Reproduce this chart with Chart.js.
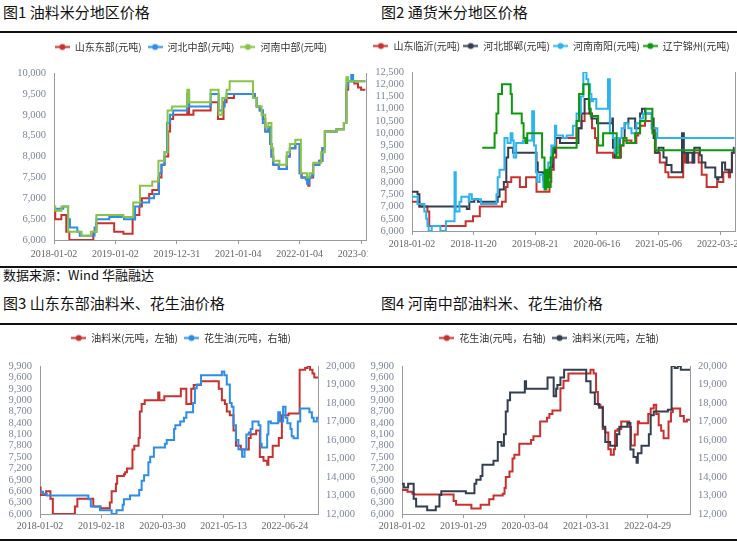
<!DOCTYPE html>
<html>
<head>
<meta charset="utf-8">
<script src="https://cdn.jsdelivr.net/npm/chart.js@4"></script>
<style>
  body { margin: 0; width: 737px; height: 542px; overflow: hidden; position: relative; background: #fff;
         font-family: "Noto Sans CJK SC", sans-serif; }
  .title { position: absolute; font-size: 15px; line-height: 20px; color: #111; white-space: nowrap; }
  .rule { position: absolute; left: 0; width: 737px; height: 2px; background: #111; }
  .src { position: absolute; left: 3px; top: 266px; font-size: 13px; line-height: 18px; color: #111; }
  .box { position: absolute; overflow: hidden; }
  .box canvas { position: absolute; left: 0; top: 0; }
</style>
</head>
<body>
<div class="title" style="left:3px;top:2px">图1 油料米分地区价格</div>
<div class="title" style="left:381px;top:2px">图2 通货米分地区价格</div>
<div class="rule" style="top:31px"></div>
<div class="rule" style="top:266px"></div>
<div class="src">数据来源：Wind 华融融达</div>
<div class="title" style="left:3px;top:293px">图3 山东东部油料米、花生油价格</div>
<div class="title" style="left:381px;top:293px">图4 河南中部油料米、花生油价格</div>
<div class="rule" style="top:323px"></div>
<div class="rule" style="top:539px"></div>

<div class="box" style="left:0;top:33px;width:368px;height:231px"><canvas id="c1" width="400" height="231"></canvas></div>
<div class="box" style="left:368px;top:33px;width:369px;height:231px"><canvas id="c2" width="400" height="231"></canvas></div>
<div class="box" style="left:0;top:325px;width:368px;height:214px"><canvas id="c3" width="368" height="214"></canvas></div>
<div class="box" style="left:368px;top:325px;width:369px;height:214px"><canvas id="c4" width="369" height="214"></canvas></div>

<script>
// 横轴刻度标签（每个刻度间隔 = 10 个序号单位）
const ticks1 = ["2018-01-02", "2019-01-02", "2019-12-31", "2021-01-04", "2022-01-04", "2023-01-03"]
const ticks2 = ["2018-01-02", "2018-11-20", "2019-08-21", "2020-06-16", "2021-05-06", "2022-03-24"]
const ticks3 = ["2018-01-02", "2019-02-18", "2020-03-30", "2021-05-13", "2022-06-24"]
const ticks4 = ["2018-01-02", "2019-01-29", "2020-03-04", "2021-03-31", "2022-04-29"]

// 图1 油料米 [序号, 元/吨]
const sdEast1 = [[0,6700],[0.2,6500],[1.2,6600],[2.0,6200],[2.5,6000],[6.4,6200],[6.9,6400],[9.8,6200],[11.3,6150],
  [12.8,6500],[13.2,6600],[13.9,6800],[14.3,7000],[15.5,7100],[16.0,7200],[17.0,7500],[17.5,7800],[18.0,8000],
  [18.6,8600],[18.9,8900],[19.4,9000],[21.7,9300],[22.0,9000],[22.7,9100],[25.5,9300],[26.7,8900],[27.6,9300],
  [28.1,9400],[29.3,9500],[32.7,9400],[33.0,9200],[33.5,9100],[34.0,8900],[34.4,8600],[34.9,8700],[35.2,8300],
  [35.4,8000],[35.7,7800],[36.6,7700],[37.9,8000],[38.4,8200],[39.3,8300],[40.0,7600],[40.3,7500],[41.4,7300],
  [41.6,7500],[42.2,7800],[43.2,7900],[43.7,8200],[44.1,8600],[46.0,8650],[47.2,8800],[47.6,9600],[47.9,9800],
  [48.9,9750],[49.5,9650],[50.0,9600],[50.7,9600]]
const hbCentral1 = [[0,6750],[1.5,6800],[2.3,6500],[2.6,6300],[3.8,6200],[4.2,6100],[6.6,6300],[6.9,6500],[9.0,6550],
  [11.4,6500],[13.2,6800],[14.0,6900],[15.5,7000],[16.3,7100],[17.1,7600],[17.5,7800],[18.0,8100],[18.4,8800],
  [18.9,9000],[19.4,9100],[21.7,9500],[22.0,9200],[25.5,9500],[26.8,9100],[27.4,9200],[27.8,9400],[28.1,9500],
  [32.7,9400],[33.0,9200],[33.5,9100],[34.0,8800],[34.4,8600],[34.9,8700],[35.2,8300],[35.4,8000],[35.7,7800],
  [36.6,7700],[37.9,8000],[38.4,8200],[39.3,8300],[40.0,7600],[40.3,7500],[41.0,7450],[41.2,7350],[41.5,7500],
  [42.0,7550],[42.2,7800],[43.2,7900],[43.7,8200],[44.1,8600],[46.0,8650],[47.2,8800],[47.6,9700],[47.9,9800],
  [48.4,9950],[48.7,9800],[50.7,9800]]
const hnCentral1 = [[0,6800],[0.2,6700],[1.2,6800],[2.3,6200],[4.5,6100],[6.0,6200],[6.9,6600],[11.3,6550],[12.9,6900],
  [14.0,7300],[16.0,7400],[17.0,7900],[18.0,8100],[18.5,9100],[19.2,9200],[21.7,9600],[22.0,9300],[25.5,9600],
  [26.8,9000],[27.4,9400],[28.1,9600],[28.6,9800],[32.4,9400],[33.0,9200],[33.8,9000],[34.4,8700],[34.9,8800],
  [35.4,8200],[35.7,7900],[36.7,7800],[37.9,8100],[38.4,8300],[39.3,8400],[40.2,7600],[41.2,7500],[41.6,7600],
  [42.2,7850],[43.5,8100],[44.1,8600],[46.0,8650],[47.2,8800],[47.6,9900],[47.9,9800],[50.7,9800]]

// 图2 通货米
const sdLinyi2 = [[0,7200],[1.2,7000],[2.5,6800],[2.8,6200],[8.7,6400],[9.9,6600],[11.0,7000],[14.6,7200],[15.2,7800],
  [15.5,8000],[16.1,8200],[17.5,7800],[18.5,8200],[20.2,7600],[22.3,8000],[22.6,8500],[23.0,9000],[23.4,9800],
  [26.7,10200],[27.5,10500],[28.0,10800],[29.2,10200],[29.7,9800],[30.0,9200],[32.6,9000],[33.9,9500],[34.3,9700],
  [35.6,9600],[36.4,9900],[36.7,10000],[37.0,10300],[37.8,10500],[38.9,10200],[39.4,9200],[40.2,8800],[41.1,8400],
  [41.6,8200],[44.0,9200],[44.3,8800],[45.7,9200],[46.5,8800],[47.0,8300],[47.8,7800],[49.5,8000],[50.5,8400],
  [51.4,8200],[51.6,8500],[51.9,9200],[52.3,9200]]
const hbHandan2 = [[0,7600],[0.9,7500],[1.2,7000],[8.9,6900],[9.3,7200],[10.1,7300],[10.7,7200],[13.9,7400],[14.2,7700],
  [14.9,8000],[15.3,9000],[15.6,9400],[16.4,9200],[20.2,8800],[20.4,8400],[21.3,8100],[21.8,8200],[22.3,8600],
  [22.8,9200],[23.2,9800],[24.0,9600],[27.0,10200],[27.5,10800],[28.0,11400],[28.8,10800],[29.1,10600],[30.0,10400],
  [32.5,10600],[32.6,9400],[32.9,9000],[33.7,9800],[34.5,10400],[35.1,10600],[36.2,10200],[37.0,10800],[37.3,11000],
  [37.8,10800],[38.9,10600],[39.2,9800],[39.5,9200],[40.0,9400],[40.8,9000],[41.3,8700],[42.1,8400],[43.8,10000],
  [44.1,9200],[44.6,8800],[44.8,9200],[45.5,8800],[45.8,9400],[46.7,9100],[47.0,8800],[47.6,8600],[49.2,8200],
  [49.5,8100],[49.7,8200],[50.3,8800],[50.8,8500],[51.4,8400],[51.9,9200],[52.2,9400],[52.3,9400]]
const hnNanyang2 = [[0,7400],[0.9,7100],[2.0,6800],[2.3,6500],[2.5,6200],[2.7,6000],[3.2,6200],[4.6,6000],[5.5,6400],
  [6.9,8400],[7.1,6800],[7.7,7200],[8.0,7400],[9.2,7200],[9.3,7500],[9.7,7300],[11.2,7100],[13.7,7500],[13.9,8200],
  [14.2,8500],[15.0,9800],[15.5,9600],[16.0,10000],[16.3,9700],[16.5,9000],[16.9,9600],[18.0,9700],[19.5,10900],
  [19.8,9500],[20.1,8400],[20.3,8000],[20.7,8300],[21.3,7800],[22.1,8800],[22.6,9500],[23.2,10300],[23.4,9900],
  [24.5,9800],[25.1,9900],[26.1,10300],[26.7,10800],[27.4,11500],[27.8,12500],[28.3,12200],[28.6,12000],
  [28.9,11600],[29.1,11300],[29.4,11400],[29.9,11000],[31.8,12200],[32.1,10000],[32.6,9800],[32.9,9200],
  [33.5,9800],[34.0,10200],[34.5,10400],[35.1,10200],[35.6,10000],[36.4,10400],[37.0,10600],[37.5,10800],
  [38.9,10200],[39.8,9800],[52.3,9800]]
const lnJinzhou2 = [[11.4,9400],[13.4,10000],[13.7,10800],[14.0,11600],[14.6,12000],[16.0,11600],[16.2,10800],
  [17.8,10400],[18.1,9800],[18.4,9600],[18.7,10000],[21.1,9000],[21.5,7700],[21.8,8500],[22.1,7800],[22.5,9000],
  [22.9,9400],[26.7,10500],[27.1,11600],[27.8,12000],[28.7,11000],[29.0,10700],[30.2,9500],[31.0,10000],
  [33.2,9000],[33.7,9500],[34.3,9800],[34.8,9600],[36.2,10000],[37.0,10500],[37.9,11000],[39.0,10000],
  [39.5,9300],[52.3,9300]]

// 图3 山东东部
const sdRice3 = [[0,6700],[0.1,6500],[1.0,6600],[1.7,6400],[2.1,6000],[5.7,6200],[6.1,6400],[8.7,6200],[9.9,6150],
  [11.4,6300],[11.7,6600],[12.4,6800],[12.6,7000],[13.7,7050],[13.9,7100],[14.2,7200],[15.1,7700],[15.4,7800],
  [16.1,8000],[16.3,8700],[16.6,8900],[17.1,9000],[19.3,9200],[19.5,9000],[20.3,9100],[23.0,9300],[23.9,8900],
  [24.7,9300],[25.1,9400],[26.3,9500],[29.2,9300],[29.7,9000],[30.2,8900],[30.5,8700],[31.0,8600],[31.6,8200],
  [32.0,7800],[32.8,7700],[34.1,8000],[34.4,8100],[35.3,8200],[35.9,7500],[36.5,7400],[37.1,7300],[37.3,7500],
  [38.0,7800],[39.0,8000],[39.5,8600],[40.6,8650],[42.4,9800],[43.3,9850],[43.7,9900],[44.1,9800],[44.5,9700],
  [44.8,9600],[45.4,9600]]
const sdOil3 = [[0,13200],[0.5,13100],[1.1,13000],[7.9,12800],[8.3,12400],[9.8,12200],[11.7,12000],[12.5,12200],
  [13.5,12500],[13.7,12800],[14.7,13000],[16.2,13300],[16.6,13800],[17.0,14100],[17.7,14800],[18.0,15100],
  [18.6,15600],[20.4,15800],[20.7,16000],[21.9,16600],[22.1,16800],[22.9,17000],[23.5,17200],[23.9,17500],
  [25.0,18000],[25.3,18800],[25.6,19000],[26.3,19500],[29.7,19700],[30.1,19500],[30.5,19000],[31.0,18000],
  [31.3,17800],[31.6,16800],[32.0,16000],[32.4,15500],[33.0,15100],[33.4,15500],[33.7,16300],[34.1,16400],
  [34.4,16600],[34.7,17000],[35.7,16800],[36.0,15800],[36.2,15600],[37.1,16300],[37.3,17000],[37.7,16900],
  [38.9,17500],[39.2,17000],[39.7,17800],[40.1,17200],[40.4,16900],[40.9,16600],[41.1,16200],[41.4,16100],
  [42.1,17000],[42.5,17700],[44.0,17500],[44.4,17200],[44.7,17000],[45.2,17200],[45.4,17200]]

// 图4 河南中部
const hnOil4 = [[0,13300],[0.9,13200],[1.7,13100],[2.0,13050],[8.4,12700],[8.8,12500],[11.3,12300],[12.8,12500],
  [14.2,12800],[14.9,13000],[16.4,13100],[16.7,13400],[16.9,14000],[17.5,14300],[18.0,15000],[18.3,15200],
  [19.1,15800],[21.0,16000],[21.4,16200],[22.5,17000],[23.6,17200],[24.0,17400],[24.5,17600],[25.8,18800],
  [26.3,19200],[27.1,19600],[30.7,19800],[31.2,19600],[31.6,18600],[31.9,17900],[32.3,17800],[32.7,16600],
  [33.1,16400],[33.6,15500],[34.0,15200],[34.5,15500],[34.7,16500],[35.1,16600],[35.7,17000],[37.0,16700],
  [37.3,15700],[37.9,16300],[38.4,17000],[38.6,16900],[40.1,17400],[40.5,17700],[41.0,17900],[41.4,17400],
  [41.8,16800],[42.2,16500],[42.6,16100],[43.4,17000],[43.8,17500],[44.1,17700],[45.3,17300],[45.9,17000],
  [46.4,17100],[46.9,17100]]
const hnRice4 = [[0,6800],[0.3,6700],[1.0,6800],[1.9,6400],[2.3,6200],[4.1,6100],[5.5,6200],[6.1,6500],[6.4,6600],
  [10.4,6550],[11.8,6800],[12.1,6900],[12.8,7000],[13.1,7300],[14.9,7400],[15.6,7900],[16.2,7800],[16.6,8100],
  [16.9,8700],[17.2,9000],[17.6,9200],[20.0,9500],[20.2,9300],[23.7,9600],[24.7,9100],[25.1,9300],[25.3,9400],
  [25.8,9600],[26.4,9800],[30.0,9500],[30.7,9200],[31.4,8900],[32.1,8800],[32.7,8300],[33.1,7900],[33.9,7800],
  [35.0,8100],[35.4,8300],[36.7,8400],[37.2,7700],[37.7,7500],[38.2,7350],[38.4,7600],[39.0,7800],[40.2,8100],
  [40.5,8600],[41.0,8700],[43.3,8750],[43.9,9900],[44.4,9850],[44.9,9900],[45.4,9800],[46.9,9800]]

const RED = "#C8322E", BLUE = "#2E8DE8", LGREEN = "#88C546", SLATE = "#333F50", SKY = "#2DB4F0", DGREEN = "#0C9A0C"
const AXIS = "#9a9a9a"
const serif = "'Liberation Serif', 'DejaVu Serif', serif"
const cjk = "'Noto Sans CJK SC', sans-serif"

// 图例标记：短线 + 圆点
function marker(color) {
  const c = document.createElement("canvas")
  c.width = 15; c.height = 9
  const g = c.getContext("2d")
  g.strokeStyle = color; g.lineWidth = 2
  g.beginPath(); g.moveTo(0, 4.5); g.lineTo(15, 4.5); g.stroke()
  g.fillStyle = color
  g.beginPath(); g.arc(7.5, 4.5, 3, 0, Math.PI * 2); g.fill()
  return c
}

function series(label, pts, color, axis, order) {
  return {
    label, data: pts.map(p => ({ x: p[0], y: p[1] })),
    borderColor: color, backgroundColor: color, borderWidth: 2,
    pointRadius: 0, pointHoverRadius: 0, pointStyle: marker(color),
    stepped: true, yAxisID: axis, order
  }
}

const comma = v => String(v).replace(/\B(?=(\d{3})+(?!\d))/g, ",")

function xAxis(labels, max, height, pad) {
  return {
    type: "linear", min: 0, max,
    afterFit: s => { s.height = height },
    ticks: { stepSize: 10, includeBounds: false, autoSkip: false, maxRotation: 0, padding: pad,
             color: "#666", font: { family: serif, size: 10 },
             callback: v => labels[Math.round(v / 10)] || "" },
    grid: { drawOnChartArea: false, drawTicks: true, tickLength: 4, color: AXIS },
    border: { color: AXIS, width: 1 }
  }
}

function yAxis(pos, min, max, step, width, showLabels) {
  return {
    position: pos, min, max,
    afterFit: s => { s.width = width },
    ticks: { display: showLabels, stepSize: step, autoSkip: false, padding: 8, color: "#7d8698",
             font: { family: serif, size: 10.5 }, callback: v => comma(v) },
    grid: { display: false, drawTicks: false },
    border: { color: AXIS, width: 1 }
  }
}

// 加大图例与绘图区的间距
function legendGap(extra) {
  return {
    id: "legendGap",
    beforeInit(chart) {
      const fit = chart.legend.fit
      chart.legend.fit = function () { fit.call(this); this.height += extra }
    }
  }
}

function draw(id, datasets, scales, padding, extra, gap) {
  new Chart(document.getElementById(id), {
    type: "line",
    data: { datasets },
    options: {
      responsive: false, animation: false, events: [],
      layout: { padding },
      scales,
      plugins: {
        tooltip: { enabled: false },
        legend: {
          position: "top",
          labels: { usePointStyle: true, pointStyleWidth: 15, padding: gap, color: "#333",
                    font: { family: cjk, size: 10 }, sort: (a, b) => a.datasetIndex - b.datasetIndex }
        }
      }
    },
    plugins: [legendGap(extra)]
  })
}

draw("c1", [
  series("山东东部(元吨)", sdEast1, RED, "y", 3),
  series("河北中部(元吨)", hbCentral1, BLUE, "y", 2),
  series("河南中部(元吨)", hnCentral1, LGREEN, "y", 1)
], {
  x: xAxis(ticks1, 50.8, 24, 4),
  y: yAxis("left", 6000, 10000, 500, 38, true),
  yr: yAxis("right", 0, 1, 1, 0, false)
}, { left: 16, right: 34, top: 3, bottom: 0 }, 11, 6)

draw("c2", [
  series("山东临沂(元吨)", sdLinyi2, RED, "y", 4),
  series("河北邯郸(元吨)", hbHandan2, SLATE, "y", 3),
  series("河南南阳(元吨)", hnNanyang2, SKY, "y", 2),
  series("辽宁锦州(元吨)", lnJinzhou2, DGREEN, "y", 1)
], {
  x: xAxis(ticks2, 52.4, 33, 3),
  y: yAxis("left", 6000, 12500, 500, 44, true),
  yr: yAxis("right", 0, 1, 1, 0, false)
}, { left: 0, right: 33, top: 5, bottom: 0 }, 11, 3)

draw("c3", [
  series("油料米(元吨，左轴)", sdRice3, RED, "y", 2),
  series("花生油(元吨，右轴)", sdOil3, BLUE, "y2", 1)
], {
  x: xAxis(ticks3, 45.4, 25, 2),
  y: yAxis("left", 6000, 9900, 300, 40, true),
  y2: yAxis("right", 12000, 20000, 1000, 44, true)
}, { left: 0, right: 6, top: 2, bottom: 0 }, 13, 6)

draw("c4", [
  series("花生油(元吨，右轴)", hnOil4, RED, "y2", 2),
  series("油料米(元吨，左轴)", hnRice4, SLATE, "y", 1)
], {
  x: xAxis(ticks4, 46.9, 25, 2),
  y: yAxis("left", 6000, 9900, 300, 34, true),
  y2: yAxis("right", 12000, 20000, 1000, 40, true)
}, { left: 0, right: 7, top: 2, bottom: 0 }, 13, 6)
</script>
</body>
</html>
